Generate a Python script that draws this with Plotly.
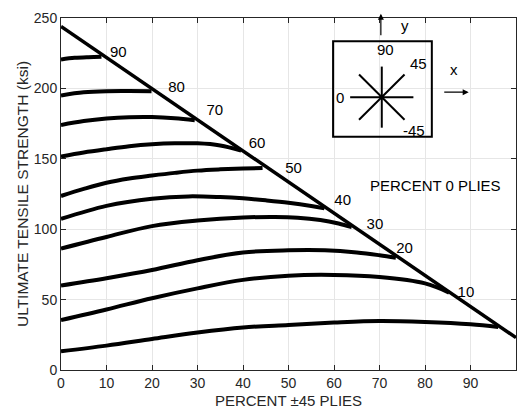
import plotly.graph_objects as go

# Percent of 0-degree plies for each strength curve
zero_ply_pct = [90, 80, 70, 60, 50, 40, 30, 20, 10, 0]

# Percent +/-45 plies (x) and ultimate tensile strength in ksi (y) for each curve
curve_x = {
    90: [0, 3, 6, 8.9],
    80: [0, 5, 10, 15, 19.9],
    70: [0, 5, 10, 15, 20, 25, 29.4],
    60: [0, 5, 10, 15, 20, 25, 30, 35, 39.6],
    50: [0, 5, 10, 15, 20, 25, 30, 35, 40, 44.3],
    40: [0, 10, 20, 28, 35, 40, 45, 50, 55, 57.9],
    30: [0, 10, 20, 30, 40, 47, 52, 57, 61, 63.9],
    20: [0, 10, 20, 30, 40, 50, 58, 65, 70, 73.6],
    10: [0, 10, 20, 30, 40, 50, 60, 70, 80, 85.3],
    0: [0, 10, 20, 30, 40, 50, 60, 70, 80, 90, 96.1],
}
curve_y = {
    90: [220.5, 221.7, 222.2, 222.4],
    80: [195, 197.2, 198, 198.1, 198],
    70: [174, 176.8, 178.6, 179.5, 179.6, 178.8, 177.4],
    60: [151.7, 154.5, 156.8, 158.9, 160.3, 161, 161, 159.5, 155.9],
    50: [123.6, 128.6, 133, 136, 138.1, 140, 141.6, 142.5, 143.1, 143.5],
    40: [107.3, 116.6, 121.7, 123.3, 122.8, 121.9, 120.5, 118.8, 116.5, 114.8],
    30: [86.3, 94.5, 102.2, 106.1, 108.3, 108.7, 108.2, 106.5, 104, 101.5],
    20: [60, 65.2, 71, 78, 83.5, 85, 85, 83.5, 81.5, 79.7],
    10: [35.5, 43, 51, 58, 64, 67, 67.5, 66, 61.5, 55],
    0: [13.3, 17.3, 22, 26.6, 30.2, 32, 33.7, 34.8, 34.1, 32.5, 30.6],
}

# Limiting line (no 90-degree plies) bounding the curves
limit_x = [0, 100]
limit_y = [244, 23]

# Curve labels placed along the limiting line
label_x = [12.6, 25.4, 33.8, 43.1, 51.1, 61.9, 69.0, 75.5, 89.0]
label_y = [225.3, 200.4, 183.9, 160.4, 142.4, 120.1, 103.1, 85.6, 54.7]
label_txt = ["90", "80", "70", "60", "50", "40", "30", "20", "10"]

x_ticks = [0, 10, 20, 30, 40, 50, 60, 70, 80, 90, 100]
y_ticks = [0, 50, 100, 150, 200, 250]

FONT = "Liberation Sans, Arial, Helvetica, sans-serif"
AX = "#262626"
TXT = 15

fig = go.Figure()

for p in zero_ply_pct:
    fig.add_trace(go.Scatter(
        x=curve_x[p], y=curve_y[p], mode="lines",
        line=dict(color="black", width=4, shape="spline", smoothing=1.0),
        showlegend=False, hoverinfo="skip",
    ))

fig.add_trace(go.Scatter(
    x=limit_x, y=limit_y, mode="lines",
    line=dict(color="black", width=3.5),
    showlegend=False, hoverinfo="skip",
))

fig.add_trace(go.Scatter(
    x=label_x, y=label_y, mode="text", text=label_txt,
    textfont=dict(family=FONT, size=TXT, color="black"),
    showlegend=False, hoverinfo="skip",
))

# Ply orientation inset: frame and star of fibre directions
cx, cy = 70.5, 193.8
shapes = [
    dict(type="rect", xref="x", yref="y", x0=59.8, x1=81.5, y0=165.7, y1=233.5,
         line=dict(color="black", width=2)),
    dict(type="line", xref="x", yref="y", x0=cx, x1=cx, y0=cy - 21.7, y1=cy + 21.7,
         line=dict(color="black", width=2)),
    dict(type="line", xref="x", yref="y", x0=cx - 6.95, x1=cx + 6.95, y0=cy, y1=cy,
         line=dict(color="black", width=2)),
    dict(type="line", xref="x", yref="y", x0=cx - 5.0, x1=cx + 5.0, y0=cy - 16.1, y1=cy + 16.1,
         line=dict(color="black", width=2)),
    dict(type="line", xref="x", yref="y", x0=cx - 5.0, x1=cx + 5.0, y0=cy + 16.1, y1=cy - 16.1,
         line=dict(color="black", width=2)),
    dict(type="circle", xref="x", yref="y", x0=cx - 0.45, x1=cx + 0.45, y0=cy - 1.4, y1=cy + 1.4,
         fillcolor="black", line=dict(color="black", width=1)),
]

annotations = []
inset_text = [
    ("90", 71.4, 227.7), ("45", 78.5, 217.6), ("0", 61.4, 193.8),
    ("-45", 77.6, 170.4), ("y", 75.5, 244.7), ("x", 86.3, 213.2),
]
for t, tx, ty in inset_text:
    annotations.append(dict(x=tx, y=ty, xref="x", yref="y", text=t, showarrow=False,
                            font=dict(family=FONT, size=TXT, color="black")))

# Axis direction arrows
annotations.append(dict(x=70.3, y=253.0, ax=70.3, ay=236.6, xref="x", yref="y",
                        axref="x", ayref="y", text="", showarrow=True,
                        arrowhead=2, arrowsize=1, arrowwidth=1.2, arrowcolor="black"))
annotations.append(dict(x=89.6, y=197.3, ax=83.9, ay=197.3, xref="x", yref="y",
                        axref="x", ayref="y", text="", showarrow=True,
                        arrowhead=2, arrowsize=1, arrowwidth=1.2, arrowcolor="black"))

annotations.append(dict(x=82.2, y=131.1, xref="x", yref="y", text="PERCENT 0 PLIES",
                        showarrow=False, font=dict(family=FONT, size=TXT, color="black")))

axis_common = dict(
    showline=True, linecolor=AX, linewidth=1, mirror="ticks",
    ticks="inside", ticklen=5, tickcolor=AX, tickwidth=1,
    showgrid=True, gridcolor="#e6e6e6", gridwidth=1, zeroline=False,
    tickfont=dict(family=FONT, size=14, color=AX),
)

fig.update_layout(
    width=527, height=416,
    margin=dict(l=61, r=10, t=16, b=43),
    paper_bgcolor="white", plot_bgcolor="white",
    shapes=shapes, annotations=annotations,
    xaxis=dict(range=[0, 100], tickvals=x_ticks,
               title=dict(text="PERCENT ±45 PLIES", standoff=5,
                          font=dict(family=FONT, size=TXT, color=AX)),
               **axis_common),
    yaxis=dict(range=[0, 250], tickvals=y_ticks,
               title=dict(text="ULTIMATE TENSILE STRENGTH (ksi)", standoff=1,
                          font=dict(family=FONT, size=15.5, color=AX)),
               **axis_common),
)

fig.write_html("out.html")
